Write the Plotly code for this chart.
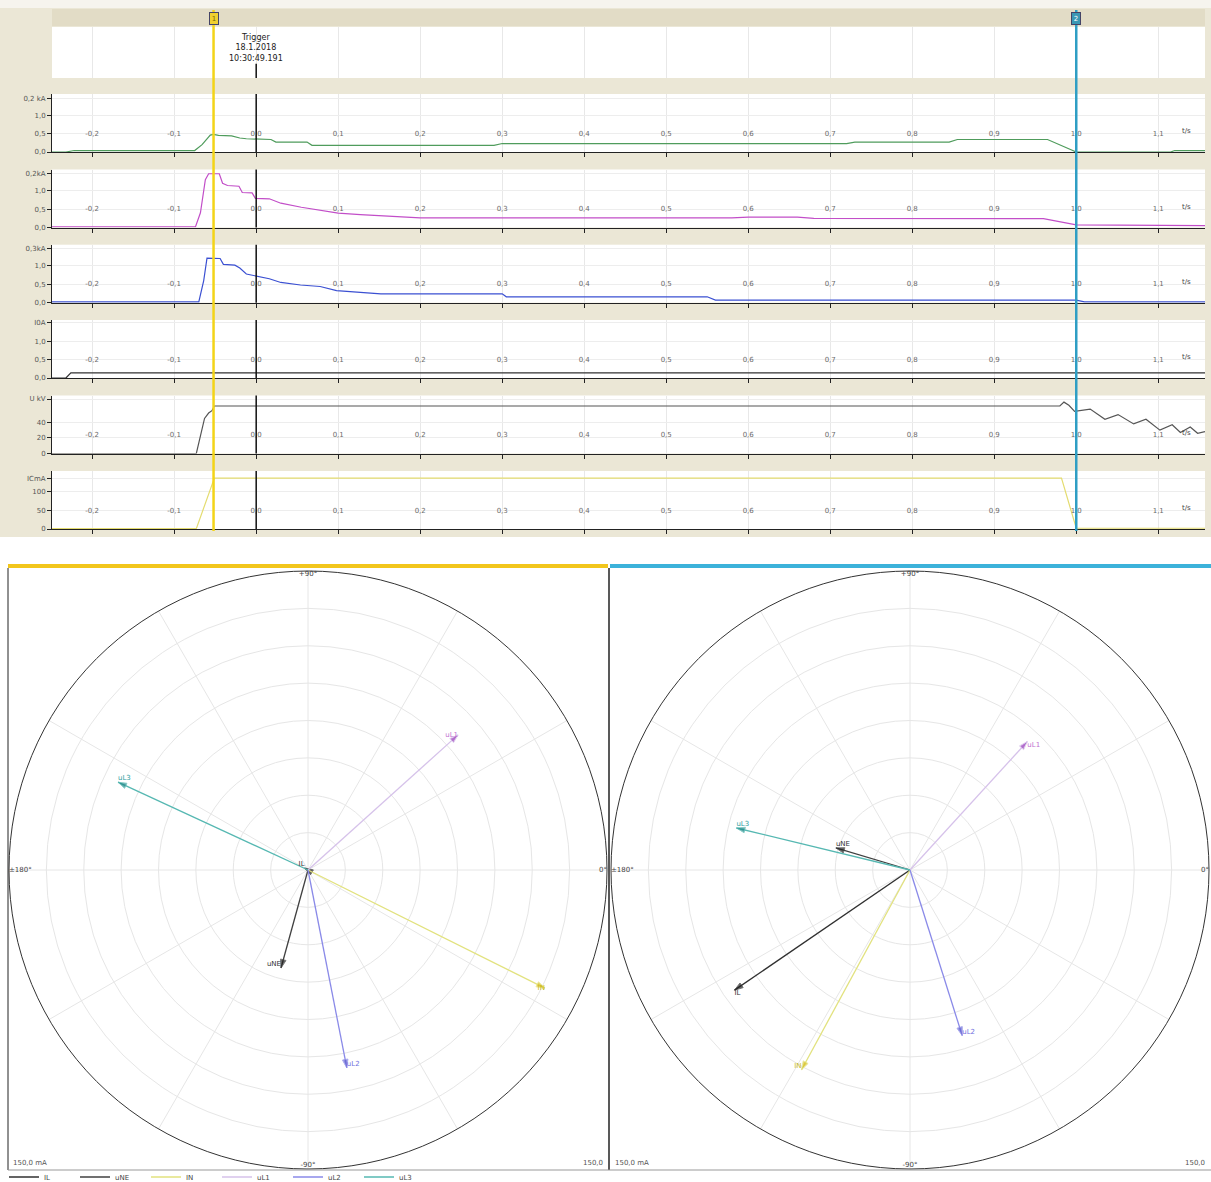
import plotly.graph_objects as go

W, H = 1211, 1182


def px_x(p):
    return p / W


def px_y(p):
    return 1 - p / H


# ---------------- time axis ----------------
T_RANGE = [-0.249, 1.157]
time_tick_vals = [-0.2, -0.1, 0.0, 0.1, 0.2, 0.3, 0.4, 0.5, 0.6, 0.7, 0.8, 0.9, 1.0, 1.1]
time_tick_text = ["-0,2", "-0,1", "0,0", "0,1", "0,2", "0,3", "0,4", "0,5",
                  "0,6", "0,7", "0,8", "0,9", "1,0", "1,1"]
time_unit = "t/s"

cursor_times = [-0.052, 1.0]
cursor_labels = ["1", "2"]
trigger_time = 0.0
trigger_lines = ["Trigger", "18.1.2018", "10:30:49.191"]

# ---------------- recorded channels ----------------
ch1_t = [-0.249, -0.232, -0.222, -0.075, -0.066, -0.056, -0.052, -0.046, -0.03, -0.02, -0.012, 0.0,
         0.018, 0.024, 0.062, 0.068, 0.29, 0.30, 0.72, 0.73, 0.845, 0.855, 0.965, 1.0, 1.115, 1.12, 1.157]
ch1_v = [0.0, 0.0, 0.04, 0.04, 0.2, 0.46, 0.48, 0.45, 0.44, 0.38, 0.36, 0.35,
         0.34, 0.27, 0.27, 0.18, 0.18, 0.23, 0.23, 0.27, 0.27, 0.34, 0.34, 0.0, 0.0, 0.04, 0.04]

ch2_t = [-0.249, -0.074, -0.068, -0.062, -0.058, -0.045, -0.041, -0.035, -0.021, -0.017, -0.005, -0.001,
         0.016, 0.03, 0.055, 0.078, 0.1, 0.127, 0.176, 0.2, 0.58, 0.6, 0.66, 0.68, 0.96, 1.0, 1.157]
ch2_v = [0.02, 0.02, 0.4, 1.3, 1.46, 1.46, 1.2, 1.14, 1.12, 0.95, 0.94, 0.79,
         0.78, 0.66, 0.55, 0.46, 0.39, 0.35, 0.28, 0.26, 0.26, 0.28, 0.28, 0.25, 0.24, 0.07, 0.05]

ch3_t = [-0.249, -0.07, -0.064, -0.06, -0.044, -0.04, -0.026, -0.02, -0.012, 0.0, 0.016, 0.03,
         0.054, 0.078, 0.098, 0.127, 0.152, 0.3, 0.305, 0.55, 0.56, 1.0, 1.01, 1.157]
ch3_v = [0.02, 0.02, 0.6, 1.21, 1.2, 1.04, 1.02, 0.94, 0.78, 0.72, 0.65, 0.55,
         0.48, 0.44, 0.33, 0.28, 0.24, 0.24, 0.16, 0.16, 0.07, 0.07, 0.02, 0.02]

ch4_t = [-0.249, -0.232, -0.226, 1.157]
ch4_v = [0.0, 0.0, 0.14, 0.14]

ch5_t = [-0.249, -0.073, -0.063, -0.058, -0.054, -0.051, 0.968, 0.98, 0.985, 0.991, 0.998,
         1.017, 1.035, 1.051, 1.070, 1.085, 1.102, 1.117, 1.127, 1.139, 1.148, 1.157]
ch5_v = [0, 0, 45, 52, 55, 61, 61, 61, 66, 62, 54,
         57, 44, 50, 38, 44, 30, 37, 27, 34, 26, 28]

ch6_t = [-0.249, -0.073, -0.051, 0.982, 1.0, 1.157]
ch6_v = [1, 1, 137, 137, 2, 2]

ch1_ticks, ch1_ticktext = [0.0, 0.5, 1.0, 1.455], ["0,0", "0,5", "1,0", "0,2 kA"]
ch2_ticks, ch2_ticktext = [0.0, 0.5, 1.0, 1.46], ["0,0", "0,5", "1,0", "0,2kA"]
ch3_ticks, ch3_ticktext = [0.0, 0.5, 1.0, 1.48], ["0,0", "0,5", "1,0", "0,3kA"]
ch4_ticks, ch4_ticktext = [0.0, 0.5, 1.0, 1.5], ["0,0", "0,5", "1,0", "I0A"]
ch5_ticks, ch5_ticktext = [0, 20, 40, 70], ["0", "20", "40", "U kV"]
ch6_ticks, ch6_ticktext = [0, 50, 100, 137], ["0", "50", "100", "ICmA"]

# ---------------- phasors (magnitude in mA scale, angle in degrees) ----------------
phasor_names = ["IL", "uNE", "IN", "uL1", "uL2", "uL3"]
phasor1_mag = [2.0, 51.0, 132.8, 101.3, 101.2, 105.0]
phasor1_ang = [150.0, 254.6, 333.5, 42.0, 281.1, 155.2]
phasor2_mag = [106.7, 38.8, 114.0, 87.3, 87.1, 89.6]
phasor2_ang = [214.4, 163.4, 241.5, 47.6, 287.5, 166.4]
phasor_full_scale = 150.0
angle_tick_vals = [90, 0, 180, 270]
angle_tick_text = ["+90°", "0°", "±180°", "-90°"]
scale_label = "150,0 mA"

FONT = "DejaVu Sans"
BEIGE = "#ebe7d6"
TXT = "#555555"

fig = go.Figure()

x_dom = [px_x(52), px_x(1205)]
panel_bottoms = [152, 227.5, 302.7, 378, 453.5, 529]
panel_h = 58

channels = [
    (ch1_t, ch1_v, "#4f9c5c", [0, 1.575], ch1_ticks, ch1_ticktext),
    (ch2_t, ch2_v, "#c24ec8", [0, 1.575], ch2_ticks, ch2_ticktext),
    (ch3_t, ch3_v, "#3b50d2", [0, 1.575], ch3_ticks, ch3_ticktext),
    (ch4_t, ch4_v, "#333333", [0, 1.575], ch4_ticks, ch4_ticktext),
    (ch5_t, ch5_v, "#555555", [0, 74.5], ch5_ticks, ch5_ticktext),
    (ch6_t, ch6_v, "#e4dc70", [0, 156], ch6_ticks, ch6_ticktext),
]

layout = dict(
    width=W, height=H, autosize=False,
    margin=dict(l=0, r=0, t=0, b=0, autoexpand=False),
    paper_bgcolor=BEIGE, plot_bgcolor="white",
    font=dict(family=FONT, size=7, color=TXT),
)

# trigger strip (subplot 1)
layout["xaxis"] = dict(domain=x_dom, anchor="y", range=T_RANGE, tickvals=time_tick_vals,
                       showticklabels=False, showgrid=True, gridcolor="#e8e8e8",
                       zeroline=False, showline=False, ticks="", fixedrange=True)
layout["yaxis"] = dict(domain=[px_y(78), px_y(27)], anchor="x", range=[0, 1],
                       showticklabels=False, showgrid=False, zeroline=False, ticks="")

shapes = []
annotations = []

# backgrounds
shapes.append(dict(type="rect", xref="paper", yref="paper", x0=0, x1=1, y0=px_y(8), y1=1,
                   fillcolor="#f6f4ee", line=dict(width=0), layer="below"))
shapes.append(dict(type="rect", xref="paper", yref="paper", x0=px_x(52), x1=px_x(1205),
                   y0=px_y(26), y1=px_y(9), fillcolor="#e2dcc6", line=dict(width=0), layer="below"))
shapes.append(dict(type="rect", xref="paper", yref="paper", x0=0, x1=1, y0=0, y1=px_y(537),
                   fillcolor="white", line=dict(width=0), layer="below"))

# trigger marker line under the text
shapes.append(dict(type="line", xref="x", yref="y domain", x0=trigger_time, x1=trigger_time,
                   y0=0, y1=0.28, line=dict(color="#111", width=1.5)))
annotations.append(dict(xref="x", yref="paper", x=trigger_time, y=px_y(48), yanchor="middle",
                        text="<br>".join(trigger_lines), showarrow=False,
                        font=dict(size=8, color="#222"), align="center"))

for i, (tt, vv, col, yr, tv, tx) in enumerate(channels):
    k = i + 2
    bot = panel_bottoms[i]
    fig.add_trace(go.Scatter(x=tt, y=vv, mode="lines", line=dict(color=col, width=1.2),
                             xaxis=f"x{k}", yaxis=f"y{k}", showlegend=False, hoverinfo="skip"))
    # time labels sit inside the panel, just above the time axis
    fig.add_trace(go.Scatter(x=time_tick_vals, y=[yr[1] * 0.31] * len(time_tick_vals),
                             mode="text", text=time_tick_text,
                             textfont=dict(size=7, color="#6a6a6a"),
                             xaxis=f"x{k}", yaxis=f"y{k}", showlegend=False, hoverinfo="skip"))
    layout[f"xaxis{k}"] = dict(domain=x_dom, anchor=f"y{k}", range=T_RANGE,
                               tickvals=time_tick_vals, showticklabels=False,
                               ticks="outside", ticklen=4, tickcolor="#222",
                               showgrid=True, gridcolor="#e8e8e8", zeroline=False,
                               showline=True, linecolor="#222", linewidth=1)
    layout[f"yaxis{k}"] = dict(domain=[px_y(bot), px_y(bot - panel_h)], anchor=f"x{k}",
                               range=yr, tickvals=tv, ticktext=tx,
                               tickfont=dict(size=7, color=TXT),
                               ticks="outside", ticklen=4, tickcolor="#222",
                               showgrid=True, gridcolor="#ededed", zeroline=False,
                               showline=True, linecolor="#222", linewidth=1)
    shapes.append(dict(type="line", xref=f"x{k}", yref=f"y{k} domain",
                       x0=trigger_time, x1=trigger_time, y0=0, y1=1,
                       line=dict(color="#111", width=1.5)))
    annotations.append(dict(xref=f"x{k} domain", yref=f"y{k} domain", x=0.99, y=0.36,
                            yanchor="middle", text=time_unit, showarrow=False,
                            font=dict(size=7, color="#444")))

# cursors
cursor_line_colors = ["#f3d418", "#2f9ec4"]
cursor_box_colors = ["#f0d030", "#3a98b4"]
cursor_text_colors = ["#7a6a00", "white"]
for ct, cl, lc, bc, tc in zip(cursor_times, cursor_labels, cursor_line_colors,
                              cursor_box_colors, cursor_text_colors):
    shapes.append(dict(type="line", xref="x", yref="paper", x0=ct, x1=ct,
                       y0=px_y(531), y1=px_y(10), line=dict(color=lc, width=2.5)))
    annotations.append(dict(xref="x", yref="paper", x=ct, y=px_y(18), yanchor="middle",
                            text=cl, showarrow=False, bgcolor=bc, bordercolor="#446",
                            borderwidth=1, font=dict(size=7, color=tc),
                            width=8, height=11, borderpad=0))

# ---------------- phasor diagrams ----------------
ph_line_colors = ["#303030", "#404040", "#e2e27e", "#d6c2ea", "#8a8ae8", "#56b8b2"]
ph_head_colors = ["#202020", "#202020", "#d8c020", "#a048c0", "#6060d0", "#208888"]
ph_text_colors = ["#333333", "#333333", "#c8b820", "#c070d0", "#7070e0", "#30a0a0"]
ph1_textpos = ["top left", "top left", "middle left", "middle left", "top right", "top right"]
ph2_textpos = ["bottom right", "top right", "top left", "bottom right", "top right", "top right"]

polar_specs = [
    ("polar", phasor1_mag, phasor1_ang, ph1_textpos, (9, 607)),
    ("polar2", phasor2_mag, phasor2_ang, ph2_textpos, (611, 1209)),
]

for pname, mags, angs, tpos, (xl, xr) in polar_specs:
    for j, name in enumerate(phasor_names):
        fig.add_trace(go.Scatterpolar(
            r=[0, mags[j]], theta=[angs[j], angs[j]], mode="lines+markers", subplot=pname,
            name=name, showlegend=False, hoverinfo="skip",
            line=dict(color=ph_line_colors[j], width=1.3),
            marker=dict(symbol="arrow", size=[0, 9], angle=[0, 90 - angs[j]],
                        color=ph_head_colors[j])))
    fig.add_trace(go.Scatterpolar(
        r=mags, theta=angs, mode="text", text=phasor_names, textposition=tpos,
        textfont=dict(size=7, color=ph_text_colors), subplot=pname,
        showlegend=False, hoverinfo="skip"))
    fig.add_trace(go.Scatterpolar(
        r=[phasor_full_scale] * len(angle_tick_vals), theta=angle_tick_vals, mode="text",
        text=angle_tick_text,
        textposition=["bottom center", "middle left", "middle right", "top center"],
        textfont=dict(size=7, color="#444"), subplot=pname, showlegend=False, hoverinfo="skip"))
    layout[pname] = dict(
        domain=dict(x=[px_x(xl), px_x(xr)], y=[px_y(1169), px_y(571)]),
        bgcolor="white",
        radialaxis=dict(range=[0, phasor_full_scale], dtick=phasor_full_scale / 8,
                        showticklabels=False, ticks="", showline=False,
                        gridcolor="#e6e6e6", gridwidth=1),
        angularaxis=dict(rotation=0, direction="counterclockwise", dtick=30,
                         showticklabels=False, ticks="", gridcolor="#e6e6e6",
                         showline=True, linecolor="#333", linewidth=1),
    )
    annotations.append(dict(xref="paper", yref="paper", x=px_x(xl + 2), y=px_y(1163),
                            xanchor="left", yanchor="middle", text=scale_label,
                            showarrow=False, font=dict(size=7, color="#555")))
    annotations.append(dict(xref="paper", yref="paper", x=px_x(xr - 2), y=px_y(1163),
                            xanchor="right", yanchor="middle", text=scale_label.split(" ")[0],
                            showarrow=False, font=dict(size=7, color="#555")))

# legend keys: plain line samples for each phasor
for j, name in enumerate(phasor_names):
    fig.add_trace(go.Scatterpolar(r=[None], theta=[None], mode="lines", subplot="polar",
                                  name=name, showlegend=True, hoverinfo="skip",
                                  line=dict(color=ph_line_colors[j], width=1.3)))

# frames around the phasor panels
shapes += [
    dict(type="line", xref="paper", yref="paper", x0=px_x(8), x1=px_x(608),
         y0=px_y(566), y1=px_y(566), line=dict(color="#f2c61c", width=4)),
    dict(type="line", xref="paper", yref="paper", x0=px_x(610), x1=1,
         y0=px_y(566), y1=px_y(566), line=dict(color="#3cb2da", width=4)),
    dict(type="line", xref="paper", yref="paper", x0=px_x(8), x1=px_x(8),
         y0=px_y(1170), y1=px_y(568), line=dict(color="#222", width=1)),
    dict(type="line", xref="paper", yref="paper", x0=px_x(609), x1=px_x(609),
         y0=px_y(1170), y1=px_y(568), line=dict(color="#222", width=1.5)),
    dict(type="line", xref="paper", yref="paper", x0=px_x(8), x1=1,
         y0=px_y(1170), y1=px_y(1170), line=dict(color="#999", width=1)),
]

layout["shapes"] = shapes
layout["annotations"] = annotations
layout["legend"] = dict(orientation="h", x=px_x(4), y=px_y(1177), xanchor="left",
                        yanchor="middle", font=dict(size=7, color="#444"),
                        bgcolor="rgba(0,0,0,0)", itemwidth=30, tracegroupgap=0,
                        entrywidth=26, entrywidthmode="pixels")
fig.update_layout(**layout)

fig.write_html("out.html")
